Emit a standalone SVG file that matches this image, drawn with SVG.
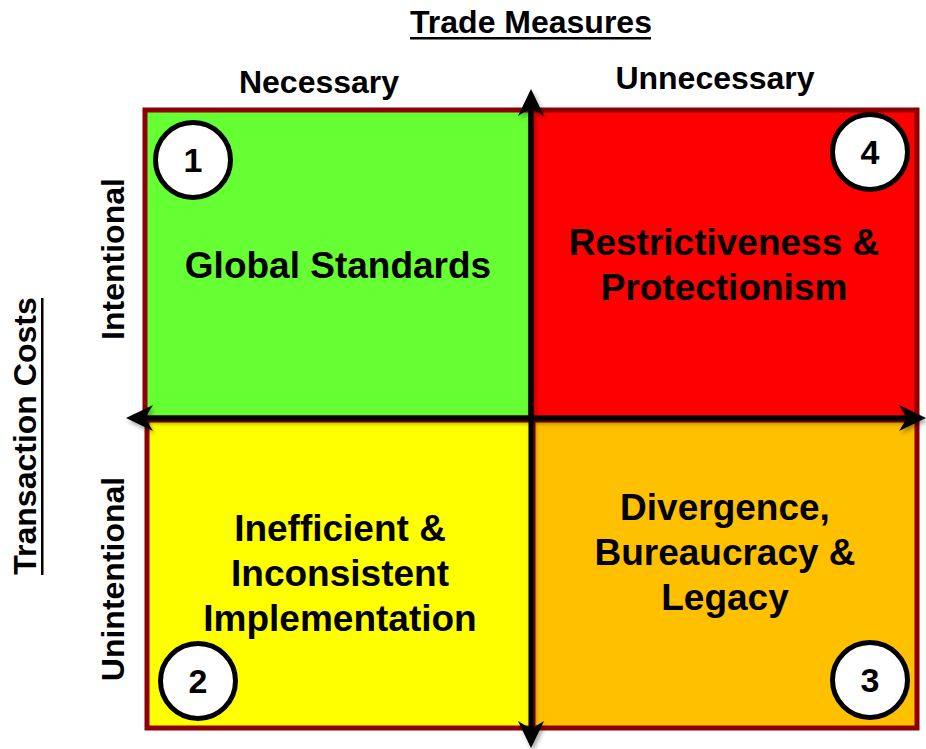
<svg xmlns="http://www.w3.org/2000/svg" width="926" height="749" viewBox="0 0 926 749">
<style>
.t{font-family:"Liberation Sans",Arial,sans-serif;font-weight:bold;fill:#000}
.hd{font-size:32px}
.bd{font-size:37px;text-anchor:middle}
.num{font-size:34px;text-anchor:middle}
.q{stroke:#8E0000;stroke-width:5}
.c{fill:#fff;stroke:#000;stroke-width:5}
.ax{stroke:#000;stroke-width:5;fill:none;marker-start:url(#ah);marker-end:url(#ah)}
</style>
<defs>
<marker id="ah" markerUnits="userSpaceOnUse" markerWidth="32" markerHeight="32" viewBox="-30 -16 32 32" refX="-15" refY="0" orient="auto-start-reverse">
<path d="M0,0 L-27,-13 L-19,0 L-27,13 Z" fill="#000"/>
</marker>
<filter id="sh" x="-10%" y="-10%" width="120%" height="120%">
<feDropShadow dx="2" dy="3" stdDeviation="2" flood-color="#000" flood-opacity="0.35"/>
</filter>
</defs>
<rect width="926" height="749" fill="#fff"/>
<g id="headers">
<text class="t hd" x="531" y="33" text-anchor="middle">Trade Measures</text>
<rect x="410" y="37" width="241" height="2.5" fill="#000"/>
<text class="t hd" x="319" y="93" text-anchor="middle">Necessary</text>
<text class="t hd" x="715" y="89" text-anchor="middle">Unnecessary</text>
<text class="t hd" transform="translate(124,259) rotate(-90)" text-anchor="middle">Intentional</text>
<text class="t hd" transform="translate(124,579) rotate(-90)" text-anchor="middle">Unintentional</text>
<text class="t hd" transform="translate(36,436) rotate(-90)" text-anchor="middle">Transaction Costs</text>
<rect x="41" y="298" width="2.5" height="277" fill="#000"/>
</g>
<g id="q1">
<rect class="q" x="145" y="110" width="386" height="308" fill="#66FF33"/>
<text class="t bd" x="338" y="278">Global Standards</text>
</g>
<g id="q4">
<rect class="q" x="531" y="110" width="386" height="308" fill="#FF0000"/>
<text class="t bd" x="724" y="255">Restrictiveness &amp;</text>
<text class="t bd" x="724" y="300">Protectionism</text>
</g>
<g id="q2">
<rect class="q" x="147" y="420" width="386" height="308" fill="#FFFF00"/>
<text class="t bd" x="340" y="541">Inefficient &amp;</text>
<text class="t bd" x="340" y="586">Inconsistent</text>
<text class="t bd" x="340" y="631">Implementation</text>
</g>
<g id="q3">
<rect class="q" x="533" y="420" width="384" height="308" fill="#FFC000"/>
<text class="t bd" x="725" y="520">Divergence,</text>
<text class="t bd" x="725" y="565">Bureaucracy &amp;</text>
<text class="t bd" x="725" y="610">Legacy</text>
</g>
<g id="connectors" filter="url(#sh)">
<line class="ax" x1="531" y1="104" x2="531" y2="733"/>
<line class="ax" x1="141" y1="418" x2="911" y2="418"/>
</g>
<g id="n1"><circle class="c" cx="193" cy="160" r="37.5"/><text class="t num" x="193" y="172">1</text></g>
<g id="n4"><circle class="c" cx="870" cy="152" r="37.5"/><text class="t num" x="870" y="164">4</text></g>
<g id="n2"><circle class="c" cx="198" cy="681" r="37.5"/><text class="t num" x="198" y="693">2</text></g>
<g id="n3"><circle class="c" cx="870" cy="680" r="37.5"/><text class="t num" x="870" y="692">3</text></g>
</svg>
